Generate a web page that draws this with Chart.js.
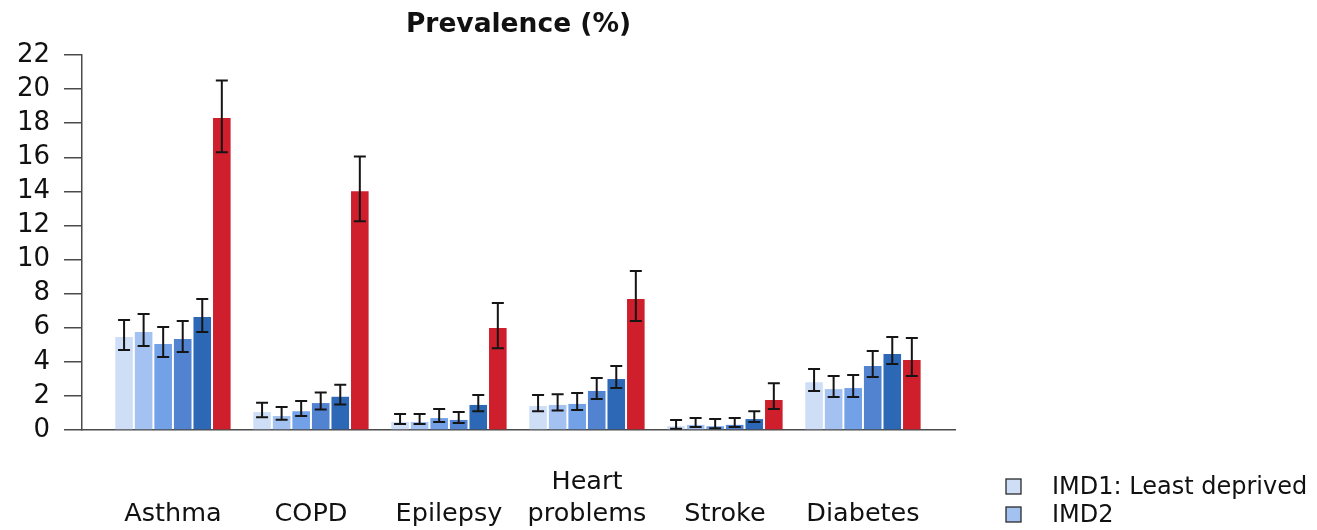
<!DOCTYPE html>
<html>
<head>
<meta charset="utf-8">
<script src="https://cdn.jsdelivr.net/npm/chart.js@4"></script>
<style>
  html, body { margin: 0; padding: 0; background: #fff; overflow: hidden; }
  #wrap { width: 1317px; height: 530px; position: relative; }
</style>
</head>
<body>
<div id="wrap"><canvas id="c" width="1317" height="530"></canvas></div>
<script>
// ---- data ----
const categories = ['Asthma', 'COPD', 'Epilepsy', ['Heart', 'problems'], 'Stroke', 'Diabetes'];
const yTicks = [0, 2, 4, 6, 8, 10, 12, 14, 16, 18, 20, 22];
const seriesNames = ['IMD1: Least deprived', 'IMD2', 'IMD3', 'IMD4', 'IMD5: Most deprived', 'Homeless'];

const imd1 = [5.45, 1.05, 0.47, 1.41, 0.22, 2.8];
const imd1Lo = [4.7, 0.75, 0.35, 1.1, 0.08, 2.29];
const imd1Hi = [6.45, 1.6, 0.94, 2.05, 0.59, 3.58];

const imd2 = [5.75, 0.82, 0.47, 1.47, 0.3, 2.4];
const imd2Lo = [4.93, 0.6, 0.35, 1.15, 0.18, 1.94];
const imd2Hi = [6.8, 1.35, 0.94, 2.1, 0.7, 3.17];

const imd3 = [5.04, 1.1, 0.7, 1.53, 0.22, 2.46];
const imd3Lo = [4.28, 0.82, 0.47, 1.17, 0.1, 1.94];
const imd3Hi = [6.04, 1.7, 1.23, 2.17, 0.64, 3.23];

const imd4 = [5.34, 1.58, 0.59, 2.29, 0.3, 3.75];
const imd4Lo = [4.58, 1.2, 0.41, 1.82, 0.18, 3.11];
const imd4Hi = [6.39, 2.2, 1.05, 3.05, 0.7, 4.63];

const imd5 = [6.63, 1.95, 1.47, 2.99, 0.64, 4.46];
const imd5Lo = [5.75, 1.5, 1.1, 2.46, 0.47, 3.87];
const imd5Hi = [7.68, 2.65, 2.05, 3.75, 1.1, 5.45];

const homeless = [18.3, 14.0, 5.98, 7.68, 1.76, 4.1];
const homelessLo = [16.3, 12.25, 4.8, 6.39, 1.23, 3.17];
const homelessHi = [20.5, 16.05, 7.45, 9.33, 2.75, 5.4];

const colors = ['#cfdef7', '#a4c2f1', '#72a1e7', '#5283d0', '#2d68b6', '#d01f2c'];

// ---- build datasets ----
const vals = [imd1, imd2, imd3, imd4, imd5, homeless];
const los = [imd1Lo, imd2Lo, imd3Lo, imd4Lo, imd5Lo, homelessLo];
const his = [imd1Hi, imd2Hi, imd3Hi, imd4Hi, imd5Hi, homelessHi];

const datasets = vals.map((v, s) => ({
  label: seriesNames[s],
  data: v.map((y, i) => ({ x: i, y: y })),
  lo: los[s],
  hi: his[s],
  backgroundColor: colors[s],
  borderWidth: 0,
  categoryPercentage: 0.85,
  barPercentage: 0.9
}));

const FONT = "'DejaVu Sans', Verdana, sans-serif";

const errorBars = {
  id: 'errorBars',
  afterDatasetsDraw(chart) {
    const ctx = chart.ctx;
    const ys = chart.scales.y;
    ctx.save();
    ctx.strokeStyle = '#151515';
    ctx.lineWidth = 2;
    chart.data.datasets.forEach((ds, di) => {
      const meta = chart.getDatasetMeta(di);
      meta.data.forEach((el, i) => {
        const x = el.x;
        const y1 = ys.getPixelForValue(ds.lo[i]);
        const y2 = ys.getPixelForValue(ds.hi[i]);
        const cap = 6;
        ctx.beginPath();
        ctx.moveTo(x, y1); ctx.lineTo(x, y2);
        ctx.moveTo(x - cap, y1); ctx.lineTo(x + cap, y1);
        ctx.moveTo(x - cap, y2); ctx.lineTo(x + cap, y2);
        ctx.stroke();
      });
    });
    ctx.restore();
  }
};

const sideLegend = {
  id: 'sideLegend',
  afterDraw(chart) {
    const ctx = chart.ctx;
    ctx.save();
    ctx.font = '24px ' + FONT;
    ctx.textBaseline = 'alphabetic';
    ctx.textAlign = 'left';
    chart.data.datasets.forEach((ds, i) => {
      const top = 479 + i * 28;
      ctx.fillStyle = ds.backgroundColor;
      ctx.fillRect(1006, top, 15, 15);
      ctx.strokeStyle = '#2a2a2a';
      ctx.lineWidth = 1.3;
      ctx.strokeRect(1006, top, 15, 15);
      ctx.fillStyle = '#111';
      ctx.fillText(ds.label, 1052, top + 15);
    });
    ctx.restore();
  }
};

new Chart(document.getElementById('c'), {
  type: 'bar',
  data: { datasets: datasets },
  plugins: [errorBars, sideLegend],
  options: {
    responsive: false,
    animation: false,
    events: [],
    layout: { padding: { left: 0, right: 362, top: 0, bottom: 0 } },
    plugins: {
      legend: { display: false },
      tooltip: { enabled: false },
      title: {
        display: true,
        fullSize: false,
        text: 'Prevalence (%)',
        color: '#111',
        font: { family: FONT, size: 26.5, weight: 'bold', lineHeight: 1.2 },
        padding: { top: 9, bottom: 14.2 }
      }
    },
    scales: {
      x: {
        type: 'linear',
        offset: false,
        min: -0.659,
        max: 5.667,
        grid: { display: false, drawTicks: false },
        border: { display: true, color: '#4a4a4a', width: 1.5 },
        afterBuildTicks(scale) {
          scale.ticks = categories.map((c, i) => ({ value: i }));
        },
        afterFit(scale) { scale.height = 100; },
        ticks: {
          autoSkip: false,
          maxRotation: 0,
          padding: 36,
          color: '#111',
          font: { family: FONT, size: 25.5, lineHeight: 1.27 },
          callback(value) {
            const c = categories[value];
            if (c === undefined) return '';
            return Array.isArray(c) ? c : ['', c];
          }
        }
      },
      y: {
        min: 0,
        max: 22,
        afterBuildTicks(scale) {
          scale.ticks = yTicks.map(v => ({ value: v }));
        },
        afterFit(scale) { scale.width = 82; },
        grid: { display: true, drawOnChartArea: false, drawTicks: true, tickLength: 18, color: '#4a4a4a', lineWidth: 1.5 },
        border: { display: true, color: '#4a4a4a', width: 1.5 },
        ticks: {
          autoSkip: false,
          padding: 14,
          color: '#111',
          font: { family: FONT, size: 26, lineHeight: 1 }
        }
      }
    }
  }
});
</script>
</body>
</html>
